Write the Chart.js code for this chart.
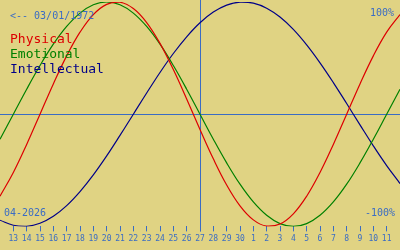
<!DOCTYPE html>
<html>
<head>
<meta charset="utf-8">
<script src="https://cdn.jsdelivr.net/npm/chart.js@4"></script>
<style>
  html, body { margin: 0; padding: 0; background: #e0d383; }
  #wrap { width: 400px; height: 250px; position: relative; }
</style>
</head>
<body>
<div id="wrap"><canvas id="bio"></canvas></div>
<script>
  // days shown: 12 April .. 12 May (first and last are only the edges)
  const dayLabels = ["12", "13", "14", "15", "16", "17", "18", "19", "20", "21", "22", "23", "24", "25", "26",
    "27", "28", "29", "30", "1", "2", "3", "4", "5", "6", "7", "8", "9", "10", "11", "12"];
  const physical = [-0.731, -0.52, -0.27, 0, 0.27, 0.52, 0.731, 0.888, 0.979, 0.998, 0.942, 0.817, 0.631, 0.398, 0.136,
    -0.136, -0.398, -0.631, -0.817, -0.942, -0.998, -0.979, -0.888, -0.731, -0.52, -0.27, 0, 0.27, 0.52, 0.731, 0.888];
  const emotional = [-0.223, 0, 0.223, 0.434, 0.624, 0.782, 0.901, 0.975, 1, 0.975, 0.901, 0.782, 0.624, 0.434, 0.223,
    0, -0.223, -0.434, -0.624, -0.782, -0.901, -0.975, -1, -0.975, -0.901, -0.782, -0.624, -0.434, -0.223, 0, 0.223];
  const intellectual = [-0.945, -0.99, -0.999, -0.972, -0.91, -0.815, -0.69, -0.541, -0.372, -0.189, 0, 0.189, 0.372, 0.541, 0.69,
    0.815, 0.91, 0.972, 0.999, 0.99, 0.945, 0.866, 0.756, 0.618, 0.458, 0.282, 0.095, -0.095, -0.282, -0.458, -0.618];
  const seriesNames = ["Physical", "Emotional", "Intellectual"];
  const seriesColors = ["#dd0000", "#008000", "#000088"];
  const birthText = "<-- 03/01/1972";
  const monthText = "04-2026";
  const topText = "100%";
  const bottomText = "-100%";
  const todayIndex = dayLabels.indexOf("27");

  const BLUE = "#3a6cc4";
  const MONO = "'DejaVu Sans Mono', monospace";

  const overlay = {
    id: "overlay",
    beforeDraw(chart) {
      const ctx = chart.ctx;
      ctx.save();
      ctx.fillStyle = "#e0d383";
      ctx.fillRect(0, 0, chart.width, chart.height);
      ctx.restore();
    },
    beforeDatasetsDraw(chart) {
      const ctx = chart.ctx;
      const x = chart.scales.x;
      const y = chart.scales.y;
      const area = chart.chartArea;
      ctx.save();
      ctx.strokeStyle = BLUE;
      ctx.lineWidth = 1;
      const y0 = Math.round(y.getPixelForValue(0)) + 0.5;
      ctx.beginPath();
      ctx.moveTo(0, y0);
      ctx.lineTo(chart.width, y0);
      ctx.stroke();
      const xt = Math.round(x.getPixelForValue(todayIndex)) + 0.5;
      ctx.beginPath();
      ctx.moveTo(xt, 0);
      ctx.lineTo(xt, area.bottom + 5);
      ctx.stroke();
      ctx.restore();
    },
    afterDraw(chart) {
      const ctx = chart.ctx;
      ctx.save();
      ctx.textBaseline = "alphabetic";
      ctx.font = "10px " + MONO;
      ctx.fillStyle = BLUE;
      ctx.textAlign = "left";
      ctx.fillText(birthText, 10, 19);
      ctx.fillText(monthText, 4, 216);
      ctx.textAlign = "right";
      ctx.fillText(topText, 394, 16);
      ctx.fillText(bottomText, 395, 216);
      ctx.textAlign = "left";
      ctx.font = "13px " + MONO;
      seriesNames.forEach((name, i) => {
        ctx.fillStyle = seriesColors[i];
        ctx.fillText(name, 10, 43 + i * 15);
      });
      ctx.restore();
    },
  };

  const seriesData = [physical, emotional, intellectual];

  new Chart(document.getElementById("bio"), {
    type: "line",
    data: {
      labels: dayLabels,
      datasets: seriesNames.map((name, i) => ({
        label: name,
        data: seriesData[i],
        borderColor: seriesColors[i],
        borderWidth: 1.2,
        pointRadius: 0,
        tension: 0.4,
        fill: false,
      })),
    },
    options: {
      responsive: true,
      maintainAspectRatio: false,
      animation: false,
      events: [],
      layout: { padding: { top: 2, bottom: 3, left: 0, right: 0 } },
      plugins: {
        legend: { display: false },
        tooltip: { enabled: false },
      },
      scales: {
        x: {
          offset: false,
          border: { display: false },
          grid: {
            drawOnChartArea: false,
            drawTicks: true,
            tickLength: 5,
            color: BLUE,
          },
          ticks: {
            autoSkip: false,
            maxRotation: 0,
            padding: 3,
            color: BLUE,
            font: { family: MONO, size: 8 },
            callback: (value, index) => (index === 0 || index === dayLabels.length - 1 ? null : dayLabels[index]),
          },
        },
        y: {
          display: false,
          min: -1,
          max: 1,
        },
      },
    },
    plugins: [overlay],
  });
</script>
</body>
</html>
